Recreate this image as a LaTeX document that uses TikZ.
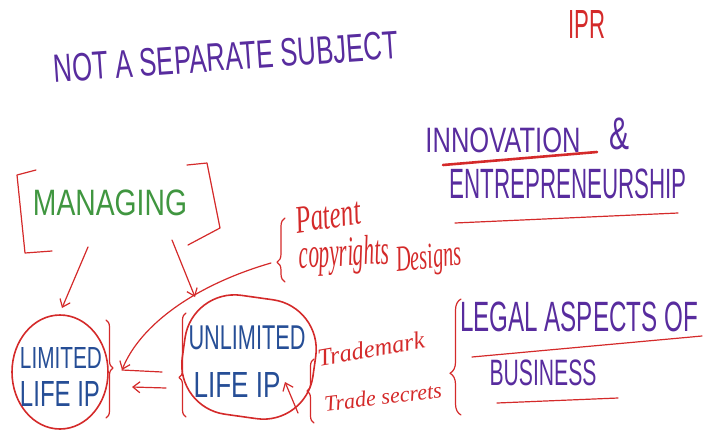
\documentclass[tikz,border=0pt]{standalone}
\usepackage{fontspec}
\setmainfont{Liberation Sans}
\newfontfamily\handfont{Liberation Serif}
\usepackage{graphicx}
\usetikzlibrary{arrows.meta,decorations.pathreplacing,shapes.geometric}
\definecolor{pen}{RGB}{88,44,158}
\definecolor{redpen}{RGB}{212,42,42}
\definecolor{greenpen}{RGB}{64,150,64}
\definecolor{bluepen}{RGB}{38,78,150}
\newcommand{\fitto}[3]{\resizebox*{#1pt}{#2pt}{#3}}
\newcommand{\scriptw}[3]{\resizebox*{#1pt}{#2pt}{\handfont\itshape #3}}
\newcommand{\scriptu}[2]{\resizebox{#1pt}{!}{\handfont\itshape #2}}
\tikzset{
  txt/.style={inner sep=0pt, text=pen},
  redtxt/.style={inner sep=0pt, text=redpen},
  redline/.style={draw=redpen, line width=1.2pt, line cap=round, line join=round},
  thick red/.style={draw=redpen, line width=2.6pt, line cap=round},
  arr/.style={redline, -{Straight Barb[length=7pt,width=11pt]}},
  bracepath/.style={redline, decorate, decoration={brace, amplitude=#1}},
  blob/.style={draw=redpen, line width=1.6pt, inner sep=0pt}
}
\begin{document}
\begin{tikzpicture}[x=1pt,y=-1pt]
\useasboundingbox (0,0) rectangle (703,434);

% titles
\node[txt, rotate=4] (title) at (226,57) {\fitto{345}{28}{NOT A SEPARATE SUBJECT}};
\node[redtxt] (ipr) at (587,24) {\fitto{37}{28}{IPR}};

\node[txt] (innov) at (503,140) {\fitto{155}{25}{INNOVATION}};
\node[txt] (amp) at (619,134) {\fitto{20}{32}{\&}};
\coordinate (u1a) at (443,165); \coordinate (u1b) at (597,152);
\draw[thick red] (u1a) -- (u1b);
\node[txt] (entre) at (568,184) {\fitto{237}{30}{ENTREPRENEURSHIP}};
\coordinate (u2a) at (455,223); \coordinate (u2b) at (678,213);
\draw[redline] (u2a) -- (u2b);

\node[txt] (legal) at (579,317) {\fitto{238}{30}{LEGAL ASPECTS OF}};
\coordinate (u3a) at (472,357); \coordinate (u3b) at (702,336);
\draw[redline] (u3a) -- (u3b);
\node[txt] (business) at (543,373) {\fitto{107}{26}{BUSINESS}};
\coordinate (u4a) at (497,403); \coordinate (u4b) at (618,398);
\draw[redline] (u4a) -- (u4b);
\coordinate (lb1) at (461,415); \coordinate (lb2) at (461,299);
\draw[bracepath=11pt, decoration={aspect=0.36}] (lb1) -- (lb2);

% managing
\node[inner sep=0pt, text=greenpen] (managing) at (110,203) {\fitto{154}{26}{MANAGING}};
\draw[redline] (36,170) -- (17,175) -- (25,253) -- (52,251);
\draw[redline] (187,165) -- (207,163) -- (220,228) -- (188,245);

% circles
\node[ellipse, blob, minimum width=96pt, minimum height=114pt] (lim) at (60,372) {};
\node[inner sep=0pt, text=bluepen] (limA) at (61,358) {\fitto{82}{21}{LIMITED}};
\node[inner sep=0pt, text=bluepen] (limB) at (60,394) {\fitto{80}{25}{LIFE IP}};

\node[rectangle, rounded corners=50pt, blob, minimum width=132pt, minimum height=120pt, rotate=-8] (unlim) at (249,357) {};
\node[inner sep=0pt, text=bluepen] (unA) at (247,338) {\fitto{117}{24}{UNLIMITED}};
\node[inner sep=0pt, text=bluepen] (unB) at (237,385) {\fitto{87}{25}{LIFE IP}};

% braces around circles
\coordinate (rb1) at (106,320); \coordinate (rb2) at (106,418);
\draw[bracepath=7pt, decoration={aspect=0.49}] (rb1) -- (rb2);
\coordinate (ub1) at (186,417); \coordinate (ub2) at (186,313);
\draw[bracepath=7pt, decoration={aspect=0.38}] (ub1) -- (ub2);
\coordinate (tb1) at (314,423); \coordinate (tb2) at (314,359);
\draw[bracepath=7pt, decoration={aspect=0.5}] (tb1) -- (tb2);
\coordinate (pb1) at (285,282); \coordinate (pb2) at (285,218);
\draw[bracepath=8pt, decoration={aspect=0.31}] (pb1) -- (pb2);

% script labels
\node[redtxt, rotate=8] (patent) at (328,216) {\scriptw{66}{26}{Patent}};
\node[redtxt, rotate=3] (copy) at (344,256) {\scriptw{90}{38}{copyrights}};
\node[redtxt, rotate=6] (designs) at (429,260) {\scriptw{66}{32}{Designs}};
\node[redtxt, rotate=10] (tm) at (371,349) {\scriptu{108}{Trademark}};
\node[redtxt, rotate=7] (ts) at (383,397) {\scriptu{118}{Trade secrets}};

% arrows
\coordinate (m1) at (88,247); \coordinate (m1e) at (62,308);
\draw[arr] (m1) -- (m1e);
\coordinate (m2) at (172,240); \coordinate (m2e) at (195,297);
\draw[arr] (m2) -- (m2e);
\coordinate (ptip) at (271,263); \coordinate (lhead) at (122,370);
\draw[arr] (ptip) .. controls (195,285) and (140,325) .. (lhead);
\coordinate (h1) at (162,372);
\draw[redline] (h1) -- (lhead);
\coordinate (h2a) at (166,388); \coordinate (h2b) at (132,387);
\draw[arr] (h2a) -- (h2b);
\coordinate (tma) at (298,413); \coordinate (tmb) at (285,382);
\draw[arr] (tma) -- (tmb);
\end{tikzpicture}
\end{document}
